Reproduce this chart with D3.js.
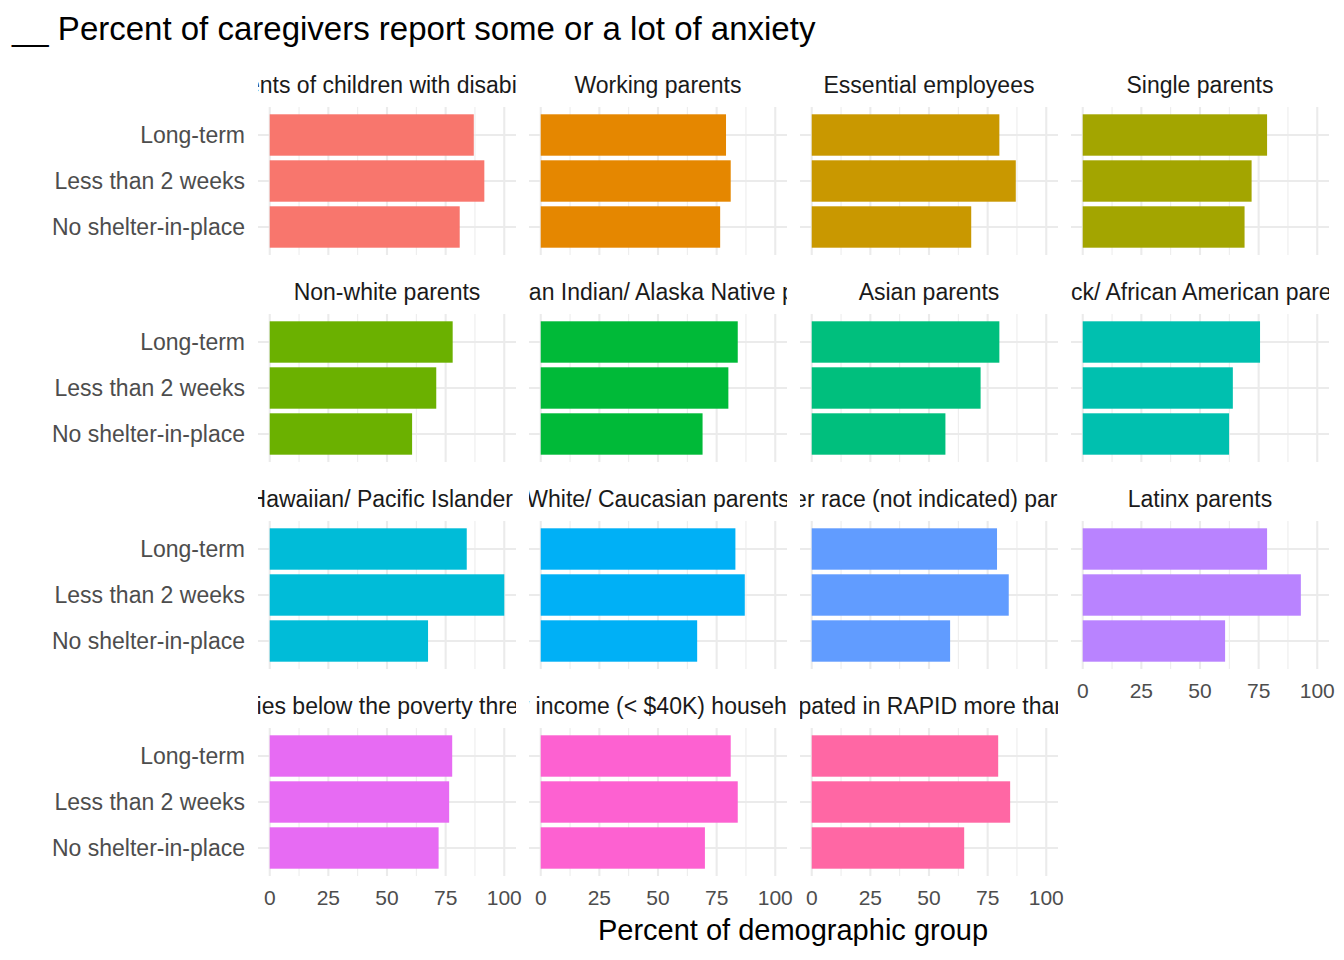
<!DOCTYPE html>
<html><head><meta charset="utf-8">
<script src="https://cdn.jsdelivr.net/npm/d3@7"></script>
<style>body{margin:0;background:#fff}text{font-family:"Liberation Sans",Arial,sans-serif}</style>
</head><body><svg id="chart" width="1344" height="960"></svg>
<script>
const groups = [
  'Parents of children with disabilities', 'Working parents', 'Essential employees', 'Single parents',
  'Non-white parents', 'American Indian/ Alaska Native parents', 'Asian parents', 'Black/ African American parents',
  'Native Hawaiian/ Pacific Islander parents', 'White/ Caucasian parents', 'Other race (not indicated) parents', 'Latinx parents',
  'Families below the poverty threshold', 'Low income (< $40K) households', 'Participated in RAPID more than once'
]
const durations = ['Long-term', 'Less than 2 weeks', 'No shelter-in-place']
const longTerm = [87, 79, 80, 78.6, 78, 84, 80, 75.6, 84, 83, 79, 78.6, 77.8, 81, 79.5]
const lessThan2 = [91.5, 81, 87, 72, 71, 80, 72, 64, 100, 87, 84, 93, 76.5, 84, 84.6]
const noShelter = [81, 76.5, 68, 69, 60.7, 69, 57, 62.4, 67.5, 66.7, 59, 60.7, 72, 70, 65]
const xTicks = [0, 25, 50, 75, 100]
const colors = ['#F8766D', '#E58700', '#C99800', '#A3A500', '#6BB100', '#00BA38', '#00BF7D', '#00C0AF',
  '#00BCD8', '#00B0F6', '#619CFF', '#B983FF', '#E76BF3', '#FD61D1', '#FF67A4']

const svg = d3.select('#chart')
const panelW = 258, panelH = 148
const colX = [258, 529, 800, 1071]
const rowY = [107, 314, 521, 728]

const x = d3.scaleLinear().domain([-5, 105]).range([0, panelW])
const y = d3.scaleBand().domain(durations).range([5, 143]).paddingInner(0.1).paddingOuter(0.05)

svg.append('text').attr('x', 12).attr('y', 40).attr('font-size', 33).attr('fill', '#000')
  .text('__ Percent of caregivers report some or a lot of anxiety')

groups.forEach((name, i) => {
  const r = Math.floor(i / 4), c = i % 4
  const g = svg.append('g').attr('transform', `translate(${colX[c]},${rowY[r]})`)
  const vals = [longTerm[i], lessThan2[i], noShelter[i]]

  // grid
  const minor = [12.5, 37.5, 62.5, 87.5]
  g.selectAll('.minor').data(minor).enter().append('line')
    .attr('x1', d => x(d)).attr('x2', d => x(d)).attr('y1', 0).attr('y2', panelH)
    .attr('stroke', '#EBEBEB').attr('stroke-width', 1)
  g.selectAll('.major').data(xTicks).enter().append('line')
    .attr('x1', d => x(d)).attr('x2', d => x(d)).attr('y1', 0).attr('y2', panelH)
    .attr('stroke', '#EBEBEB').attr('stroke-width', 2.1)
  g.selectAll('.hgrid').data(durations).enter().append('line')
    .attr('x1', 0).attr('x2', panelW)
    .attr('y1', d => y(d) + y.bandwidth() / 2).attr('y2', d => y(d) + y.bandwidth() / 2)
    .attr('stroke', '#EBEBEB').attr('stroke-width', 2.1)

  g.selectAll('rect').data(durations).enter().append('rect')
    .attr('x', x(0)).attr('y', d => y(d))
    .attr('width', (d, j) => x(vals[j]) - x(0)).attr('height', y.bandwidth())
    .attr('fill', colors[i])

  // strip title, clipped to panel width
  svg.append('clipPath').attr('id', 'clip' + i).append('rect')
    .attr('x', colX[c]).attr('y', rowY[r] - 45).attr('width', panelW).attr('height', 42)
  svg.append('text').attr('clip-path', `url(#clip${i})`)
    .attr('x', colX[c] + panelW / 2).attr('y', rowY[r] - 14)
    .attr('text-anchor', 'middle').attr('font-size', 23).attr('fill', '#1A1A1A').text(name)

  if (c === 0) {
    g.selectAll('.ylab').data(durations).enter().append('text')
      .attr('x', -13).attr('y', d => y(d) + y.bandwidth() / 2).attr('dy', '0.35em')
      .attr('text-anchor', 'end').attr('font-size', 23).attr('fill', '#4D4D4D').text(d => d)
  }
  const bottom = r === 3 || (r === 2 && c === 3)
  if (bottom) {
    g.selectAll('.xlab').data(xTicks).enter().append('text')
      .attr('x', d => x(d)).attr('y', panelH + 29)
      .attr('text-anchor', 'middle').attr('font-size', 21).attr('fill', '#4D4D4D').text(d => d)
  }
})

svg.append('text').attr('x', 793).attr('y', 940).attr('text-anchor', 'middle')
  .attr('font-size', 29).attr('fill', '#000').text('Percent of demographic group')
</script></body></html>
